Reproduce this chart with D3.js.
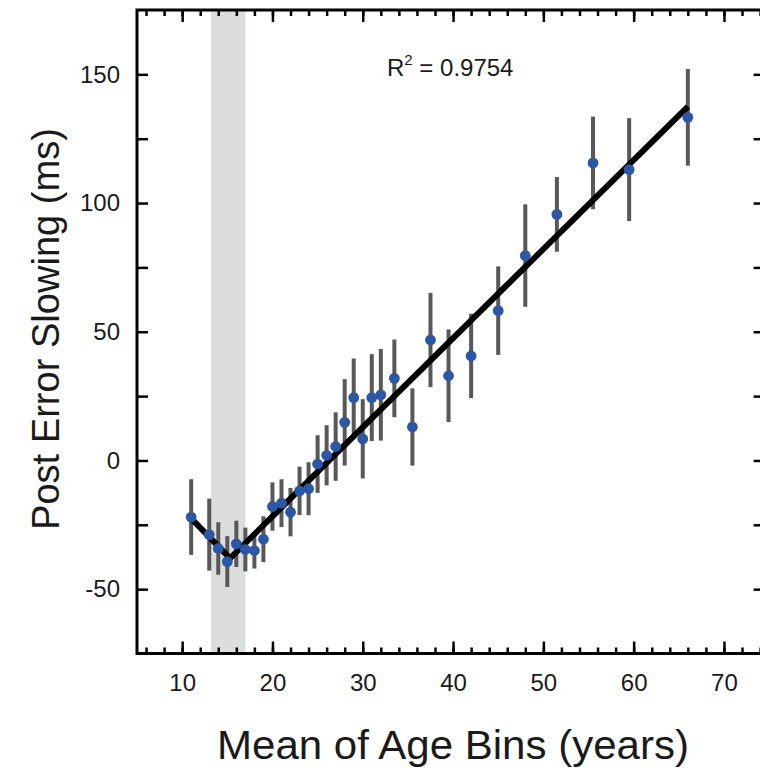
<!DOCTYPE html>
<html>
<head>
<meta charset="utf-8">
<script src="https://cdn.jsdelivr.net/npm/d3@7"></script>
<style>
  body { margin: 0; background: #fff; }
  svg { display: block; font-family: "Liberation Sans", Arial, sans-serif; }
</style>
</head>
<body>
<div id="chart"></div>
<script>
// mean of each age bin (years), post error slowing (ms) and its error bar half-length
const ageBins = [11, 13, 14, 15, 16, 17, 18, 19, 20, 21, 22, 23, 24, 25, 26, 27, 28, 29, 30, 31, 32,
                 33.5, 35.5, 37.5, 39.5, 42, 45, 48, 51.5, 55.5, 59.5, 66];
const pesMeans = [-22, -28.8, -34.2, -39.3, -32.4, -34.6, -35, -30.6, -17.9, -16.6, -20.1, -11.8, -11, -1.4,
                  2, 5.4, 14.8, 24.4, 8.4, 24.4, 25.5, 31.9, 13, 46.8, 32.9, 40.6, 58.2, 79.6, 95.6, 115.6, 113, 133.3];
const pesErrors = [14.7, 14, 10.2, 9.9, 9, 8.5, 7, 8.9, 9.4, 9.3, 9.4, 9.4, 10.3, 11.2,
                   11.7, 13.3, 16.8, 15.2, 15.4, 16.9, 17.8, 15.1, 15, 18.3, 18, 16.4, 17.2, 19.9, 14.5, 18, 20, 18.8];

// piecewise regression fit (breakpoint near 15 years)
const fitAges = [11, 15.3, 66];
const fitValues = [-22.5, -38, 137.5];

// shaded age window
const bandRange = [13.2, 17];

const xMajor = [10, 20, 30, 40, 50, 60, 70];
const xMinor = d3.range(6, 75, 2);
const yMajor = [-50, 0, 50, 100, 150];
const yMinor = [-50, -25, 0, 25, 50, 75, 100, 125, 150];

const width = 760, height = 771;
const plot = {left: 137, right: 764.6, top: 10, bottom: 653.5};

const svg = d3.select("#chart")
  .append("svg")
    .attr("width", width)
    .attr("height", height);

const x = d3.scaleLinear().domain([5, 74.5]).range([plot.left, plot.right]);
const y = d3.scaleLinear().domain([-75, 175]).range([plot.bottom, plot.top]);

// grey band
svg.append("rect")
  .attr("x", x(bandRange[0]))
  .attr("y", plot.top)
  .attr("width", x(bandRange[1]) - x(bandRange[0]))
  .attr("height", plot.bottom - plot.top)
  .attr("fill", "#dcdddd");

// error bars
svg.append("g")
  .selectAll("line")
  .data(ageBins)
  .join("line")
    .attr("x1", d => x(d))
    .attr("x2", d => x(d))
    .attr("y1", (d, i) => y(pesMeans[i] + pesErrors[i]))
    .attr("y2", (d, i) => y(pesMeans[i] - pesErrors[i]))
    .attr("stroke", "#585858")
    .attr("stroke-width", 4);

// fit line
svg.append("path")
  .datum(fitAges)
  .attr("fill", "none")
  .attr("stroke", "#000")
  .attr("stroke-width", 6)
  .attr("stroke-linejoin", "miter")
  .attr("d", d3.line().x(d => x(d)).y((d, i) => y(fitValues[i])));

// points
svg.append("g")
  .selectAll("circle")
  .data(ageBins)
  .join("circle")
    .attr("cx", d => x(d))
    .attr("cy", (d, i) => y(pesMeans[i]))
    .attr("r", 5.4)
    .attr("fill", "#2c57a4");

// axes - ticks all point inward
const plain = d => String(d);   // plain hyphen for negatives

function styleAxis(g) {
  g.select(".domain").remove();
  g.selectAll(".tick line").attr("stroke", "#000").attr("stroke-width", 2.5);
  g.selectAll("text").attr("fill", "#1a1a1a").attr("font-size", 24);
}

svg.append("g")
  .attr("transform", "translate(0," + plot.bottom + ")")
  .call(d3.axisBottom(x).tickValues(xMinor).tickSize(-6).tickFormat(""))
  .call(styleAxis);
svg.append("g")
  .attr("transform", "translate(0," + plot.bottom + ")")
  .call(d3.axisBottom(x).tickValues(xMajor).tickSizeInner(-12).tickSizeOuter(0).tickPadding(20).tickFormat(plain))
  .call(styleAxis);

svg.append("g")
  .attr("transform", "translate(0," + plot.top + ")")
  .call(d3.axisTop(x).tickValues(xMinor).tickSize(-6).tickFormat(""))
  .call(styleAxis);
svg.append("g")
  .attr("transform", "translate(0," + plot.top + ")")
  .call(d3.axisTop(x).tickValues(xMajor).tickSize(-12).tickFormat(""))
  .call(styleAxis);

svg.append("g")
  .attr("transform", "translate(" + plot.left + ",0)")
  .call(d3.axisLeft(y).tickValues(yMinor).tickSize(-11).tickFormat(""))
  .call(styleAxis);
svg.append("g")
  .attr("transform", "translate(" + plot.left + ",0)")
  .call(d3.axisLeft(y).tickValues(yMajor).tickSizeInner(0).tickSizeOuter(0).tickPadding(17).tickFormat(plain))
  .call(styleAxis);

svg.append("g")
  .attr("transform", "translate(" + plot.right + ",0)")
  .call(d3.axisRight(y).tickValues(yMinor).tickSize(-11).tickFormat(""))
  .call(styleAxis);

// frame
svg.append("rect")
  .attr("x", plot.left)
  .attr("y", plot.top)
  .attr("width", plot.right - plot.left)
  .attr("height", plot.bottom - plot.top)
  .attr("fill", "none")
  .attr("stroke", "#000")
  .attr("stroke-width", 3);

// R squared
const r2 = svg.append("text")
  .attr("x", 387)
  .attr("y", 76)
  .attr("font-size", 24)
  .attr("fill", "#1a1a1a");
r2.append("tspan").text("R");
r2.append("tspan").attr("font-size", 15).attr("dy", -11).text("2");
r2.append("tspan").attr("dy", 11).text(" = 0.9754");

// axis titles
svg.append("text")
  .attr("text-anchor", "middle")
  .attr("transform", "translate(59,329) rotate(-90)")
  .attr("font-size", 38)
  .attr("textLength", 402)
  .attr("lengthAdjust", "spacingAndGlyphs")
  .attr("fill", "#1a1a1a")
  .text("Post Error Slowing (ms)");

svg.append("text")
  .attr("text-anchor", "middle")
  .attr("x", 453)
  .attr("y", 759)
  .attr("font-size", 40)
  .attr("textLength", 472)
  .attr("lengthAdjust", "spacingAndGlyphs")
  .attr("fill", "#1a1a1a")
  .text("Mean of Age Bins (years)");
</script>
</body>
</html>
